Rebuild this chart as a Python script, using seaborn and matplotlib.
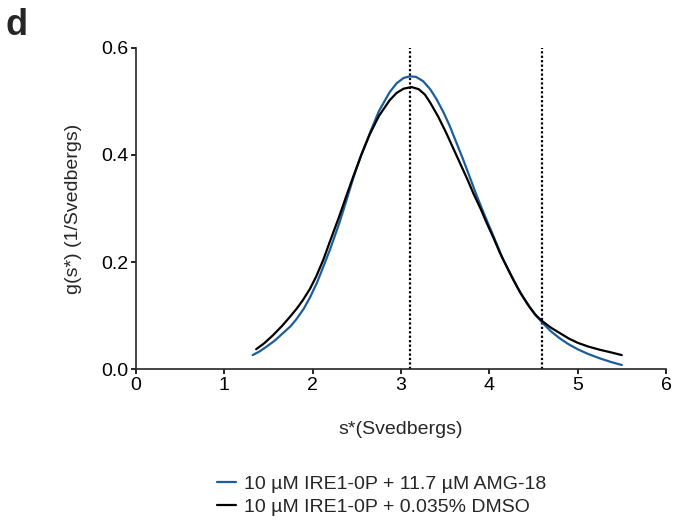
import matplotlib
matplotlib.use('Agg')
import matplotlib.pyplot as plt
import seaborn as sns
import pandas as pd

# ---- values ----
amg_label = "10 µM IRE1-0P + 11.7 µM AMG-18"
dmso_label = "10 µM IRE1-0P + 0.035% DMSO"

amg_s = [1.32, 1.40, 1.48, 1.57, 1.67, 1.75, 1.82, 1.90, 1.97, 2.05,
         2.12, 2.20, 2.30, 2.38, 2.46, 2.55, 2.65, 2.75, 2.87, 2.95,
         3.03, 3.10, 3.17, 3.25, 3.33, 3.40, 3.48, 3.55, 3.62, 3.70,
         3.78, 3.85, 3.92, 3.97, 4.03, 4.08, 4.15, 4.23, 4.32, 4.42,
         4.51, 4.61, 4.70, 4.80, 4.90, 5.00, 5.12, 5.25, 5.38, 5.50]
amg_g = [0.026, 0.033, 0.042, 0.053, 0.068, 0.080, 0.094, 0.113, 0.134, 0.162,
         0.191, 0.225, 0.272, 0.314, 0.357, 0.400, 0.442, 0.482, 0.517, 0.534,
         0.544, 0.547, 0.546, 0.538, 0.523, 0.505, 0.480, 0.455, 0.426, 0.393,
         0.358, 0.327, 0.298, 0.278, 0.255, 0.235, 0.207, 0.181, 0.152, 0.124,
         0.103, 0.085, 0.070, 0.057, 0.046, 0.037, 0.028, 0.020, 0.013, 0.0075]

dmso_s = [1.36, 1.45, 1.55, 1.65, 1.74, 1.82, 1.89, 1.97, 2.04, 2.12,
          2.19, 2.30, 2.38, 2.46, 2.55, 2.65, 2.75, 2.87, 2.95, 3.03,
          3.12, 3.20, 3.27, 3.33, 3.42, 3.51, 3.59, 3.67, 3.75, 3.82,
          3.90, 3.97, 4.05, 4.12, 4.20, 4.27, 4.36, 4.46, 4.53, 4.61,
          4.70, 4.80, 4.90, 5.00, 5.12, 5.25, 5.38, 5.50]
dmso_g = [0.037, 0.048, 0.063, 0.080, 0.097, 0.113, 0.129, 0.150, 0.173, 0.204,
          0.236, 0.285, 0.323, 0.360, 0.400, 0.440, 0.473, 0.502, 0.516, 0.524,
          0.527, 0.523, 0.513, 0.498, 0.472, 0.442, 0.413, 0.384, 0.355, 0.328,
          0.300, 0.273, 0.244, 0.217, 0.190, 0.167, 0.140, 0.115, 0.100, 0.088,
          0.077, 0.067, 0.057, 0.049, 0.042, 0.036, 0.031, 0.026]

peak_marks = [3.1, 4.6]
x_ticks = [0, 1, 2, 3, 4, 5, 6]
y_ticks = [0.0, 0.2, 0.4, 0.6]

colors = {amg_label: '#1b5e9b', dmso_label: 'black'}

df = pd.concat([
    pd.DataFrame({'s': amg_s, 'g': amg_g, 'sample': amg_label}),
    pd.DataFrame({'s': dmso_s, 'g': dmso_g, 'sample': dmso_label}),
], ignore_index=True)

sns.set_style('ticks')
plt.rcParams['font.family'] = ['Liberation Sans', 'DejaVu Sans']
plt.rcParams['axes.linewidth'] = 1.2

fig = plt.figure(figsize=(6.73, 5.21), dpi=100)
ax = fig.add_axes([0.2021, 0.2917, 0.7875, 0.6162])

sns.lineplot(data=df, x='s', y='g', hue='sample', palette=colors, sort=False,
             estimator=None, linewidth=1.6, ax=ax)

for xv in peak_marks:
    ax.axvline(xv, color='black', linestyle=(0, (1, 1)), linewidth=1.6, zorder=1)

ax.set_xlim(0, 6)
ax.set_ylim(0, 0.6)
ax.set_xticks(x_ticks)
ax.set_yticks(y_ticks)
ax.set_xticklabels([str(v) for v in x_ticks])
ax.set_yticklabels([f"{v:.1f}" for v in y_ticks])
ax.tick_params(axis='both', labelsize=14, length=3.5, width=1.2, pad=2, colors='black')
sns.despine(ax=ax)

ax.set_xlabel("s*(Svedbergs)", fontsize=14, labelpad=20)
ax.set_ylabel("g(s*) (1/Svedbergs)", fontsize=14, labelpad=14)

handles, labels = ax.get_legend_handles_labels()
ax.get_legend().remove()
fig.legend(handles, labels, loc='center', bbox_to_anchor=(0.567, 0.049),
           frameon=False, fontsize=14, handlelength=1.0, handletextpad=0.4,
           labelspacing=0.28)

fig.text(0.008, 0.985, 'd', fontsize=26, fontweight='bold', va='top', ha='left')

fig.savefig('out.png', dpi=100)
plt.close(fig)
